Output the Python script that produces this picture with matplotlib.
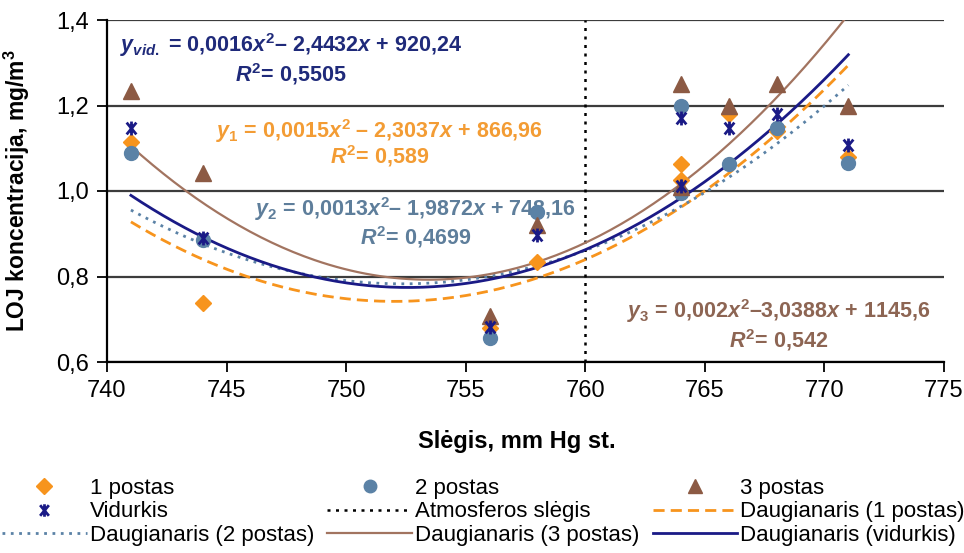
import matplotlib
matplotlib.use('Agg')
import numpy as np
import matplotlib.pyplot as plt
from matplotlib.lines import Line2D
from matplotlib.path import Path

# ---- data ----
pressure = [741, 744, 756, 758, 764, 764, 766, 768, 771]
post1 = [1.115, 0.738, 0.68, 0.835, 1.062, 1.026, 1.18, 1.14, 1.08]
post2 = [1.09, 0.885, 0.655, 0.952, 1.20, 0.995, 1.064, 1.148, 1.065]
post3 = [1.235, 1.043, 0.708, 0.92, 1.25, 1.01, 1.20, 1.25, 1.20]
vidurkis = [1.147, 0.889, 0.682, 0.898, 1.17, 1.012, 1.148, 1.18, 1.108]
atm_pressure = 760

# polynomial trendlines, values
trend_x = [741, 744, 750, 753, 756, 760, 764, 768, 771]
trend1 = [0.924, 0.85, 0.745, 0.739, 0.76, 0.837, 0.975, 1.14, 1.285]
trend2 = [0.952, 0.878, 0.796, 0.788, 0.795, 0.85, 0.975, 1.105, 1.25]
trend3 = [1.104, 0.975, 0.815, 0.795, 0.80, 0.88, 1.02, 1.22, 1.41]
trend_vid = [0.991, 0.893, 0.785, 0.772, 0.79, 0.862, 0.99, 1.16, 1.313]

x_ticks = [740, 745, 750, 755, 760, 765, 770, 775]
y_ticks = [0.6, 0.8, 1.0, 1.2, 1.4]

eq_vid = [r'$y_{vid.}$ = 0,0016$x^2$– 2,4432$x$ + 920,24', r'$R^2$= 0,5505']
eq_1 = [r'$y_1$ = 0,0015$x^2$ – 2,3037$x$ + 866,96', r'$R^2$= 0,589']
eq_2 = [r'$y_2$ = 0,0013$x^2$– 1,9872$x$ + 748,16', r'$R^2$= 0,4699']
eq_3 = [r'$y_3$ = 0,002$x^2$–3,0388$x$ + 1145,6', r'$R^2$= 0,542']

c_orange = '#F7941D'
c_blue = '#5B82A6'
c_brown = '#8C5A44'
c_brown_line = '#A27460'
c_navy = '#1A1A86'

plt.rcParams['font.family'] = ['Liberation Sans', 'DejaVu Sans']
plt.rcParams['mathtext.fontset'] = 'custom'
plt.rcParams['mathtext.rm'] = 'Liberation Sans:bold'
plt.rcParams['mathtext.it'] = 'Liberation Sans:bold:italic'
plt.rcParams['mathtext.bf'] = 'Liberation Sans:bold'

# Excel-like asterisk marker: X with a vertical bar
star = Path([(0, -1), (0, 1), (-0.7, -0.85), (0.7, 0.85), (-0.7, 0.85), (0.7, -0.85)],
            [Path.MOVETO, Path.LINETO] * 3)

fig = plt.figure(figsize=(9.64, 5.53), dpi=100)
ax = fig.add_axes([107 / 964, 1 - 362 / 553, 837 / 964, 342 / 553])

xs = np.linspace(min(pressure), max(pressure), 200)
fit1 = np.polyval(np.polyfit(trend_x, trend1, 2), xs)
fit2 = np.polyval(np.polyfit(trend_x, trend2, 2), xs)
fit3 = np.polyval(np.polyfit(trend_x, trend3, 2), xs)
fitv = np.polyval(np.polyfit(trend_x, trend_vid, 2), xs)

ax.axvline(atm_pressure, color='black', lw=1.8, ls=(0, (1.2, 2.2)), zorder=2)

ax.plot(pressure, post1, ls='none', marker='D', ms=8, color=c_orange, mec=c_orange, zorder=4)
ax.plot(pressure, post2, ls='none', marker='o', ms=10, color=c_blue, mec=c_blue, zorder=4)
ax.plot(pressure, post3, ls='none', marker='^', ms=11, color=c_brown, mec=c_brown, zorder=4)
ax.plot(pressure, vidurkis, ls='none', marker=star, ms=10, mfc='none', mec=c_navy, mew=2, zorder=4)

ax.plot(xs, fit1, color=c_orange, lw=2, ls=(0, (4, 2.2)), zorder=3)
ax.plot(xs, fit2, color=c_blue, lw=2, ls=(0, (1, 2)), zorder=3)
ax.plot(xs, fit3, color=c_brown_line, lw=1.6, zorder=3)
ax.plot(xs, fitv, color=c_navy, lw=2, zorder=3)

ax.set_xlim(740, 775)
ax.set_ylim(0.6, 1.4)
ax.set_xticks(x_ticks)
ax.set_xticklabels([str(v) for v in x_ticks])
ax.set_yticks(y_ticks)
ax.set_yticklabels([f'{v:.1f}'.replace('.', ',') for v in y_ticks])
ax.yaxis.grid(True, color='#3c3c3c', lw=1.6)
ax.set_axisbelow(True)
for s in ['top', 'right']:
    ax.spines[s].set_visible(False)
for s in ['left', 'bottom']:
    ax.spines[s].set_linewidth(1.6)
ax.tick_params(direction='out', length=7, width=1.3, labelsize=17, pad=6)

ax.set_xlabel('Slėgis, mm Hg st.', fontsize=17, fontweight='bold')
ax.xaxis.set_label_coords(0.49, -0.2)
ax.set_ylabel('LOJ koncentracija, mg/m$^{3}$', fontsize=16.5, fontweight='bold')
ax.yaxis.set_label_coords(-0.09, 0.5)

eq_kw = dict(fontsize=15.5, fontweight='bold', family='Liberation Sans', ha='center', va='baseline')
ax.text(747.7, 1.325, eq_vid[0], color='#1F2A7A', **eq_kw)
ax.text(747.7, 1.255, eq_vid[1], color='#1F2A7A', **eq_kw)
ax.text(751.4, 1.124, eq_1[0], color='#F39C34', **eq_kw)
ax.text(751.4, 1.065, eq_1[1], color='#F39C34', **eq_kw)
ax.text(752.9, 0.942, eq_2[0], color='#5E7E9B', **eq_kw)
ax.text(752.9, 0.874, eq_2[1], color='#5E7E9B', **eq_kw)
ax.text(768.1, 0.703, eq_3[0], color='#8D6553', **eq_kw)
ax.text(768.1, 0.635, eq_3[1], color='#8D6553', **eq_kw)

h_p1 = Line2D([], [], ls='none', marker='D', ms=8, color=c_orange)
h_p2 = Line2D([], [], ls='none', marker='o', ms=9, color=c_blue)
h_p3 = Line2D([], [], ls='none', marker='^', ms=10, color=c_brown)
h_vid = Line2D([], [], ls='none', marker=star, ms=9, mfc='none', mec=c_navy, mew=2)
h_atm = Line2D([], [], color='black', lw=1.8, ls=(0, (1.2, 2.2)))
h_f1 = Line2D([], [], color=c_orange, lw=2, ls=(0, (4, 2.2)))
h_f2 = Line2D([], [], color=c_blue, lw=2, ls=(0, (1, 2)))
h_f3 = Line2D([], [], color=c_brown_line, lw=1.6)
h_fv = Line2D([], [], color=c_navy, lw=2)

handles = [h_p1, h_vid, h_f2, h_p2, h_atm, h_f3, h_p3, h_f1, h_fv]
labels = ['1 postas', 'Vidurkis', 'Daugianaris (2 postas)',
          '2 postas', 'Atmosferos slėgis', 'Daugianaris (3 postas)',
          '3 postas', 'Daugianaris (1 postas)', 'Daugianaris (vidurkis)']
fig.legend(handles, labels, ncol=3, loc='upper left', bbox_to_anchor=(0.0, 1 - 476 / 553),
           frameon=False, fontsize=16, handlelength=3.8, handletextpad=0.14,
           columnspacing=0.6, labelspacing=0.1, borderpad=0.1, borderaxespad=0)

fig.savefig('out.png', dpi=100)
